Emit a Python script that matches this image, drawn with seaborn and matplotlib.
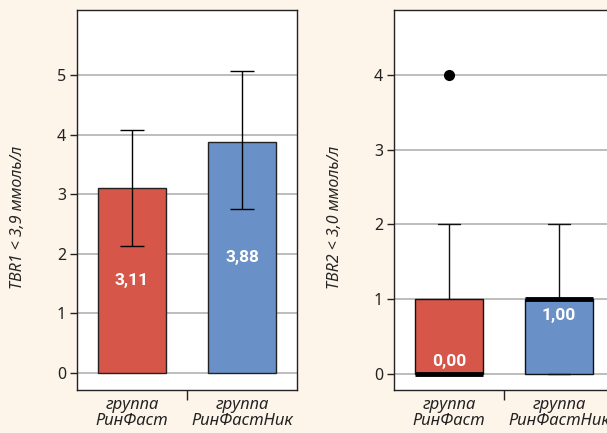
import matplotlib
matplotlib.use("Agg")
import matplotlib.pyplot as plt
import seaborn as sns
import pandas as pd
import numpy as np

# Categories
groups = ["группа\nРинФаст", "группа\nРинФастНик"]

# TBR1 (< 3,9 ммоль/л): means with lower/upper error bounds
tbr1_mean = [3.11, 3.88]
tbr1_low = [2.13, 2.75]
tbr1_high = [4.08, 5.07]
tbr1_labels = ["3,11", "3,88"]

# TBR2 (< 3,0 ммоль/л): individual observations per group
tbr2_rinfast = [0, 0, 0, 0, 0, 0, 1, 1, 2, 4]
tbr2_rinfastnik = [0, 0, 0, 1, 1, 1, 1, 1, 2]
tbr2_labels = ["0,00", "1,00"]

colors = ["#D6574A", "#6991C8"]
bg = "#FEF5EA"

sns.set_style("ticks")
plt.rcParams["font.family"] = ["Noto Sans", "DejaVu Sans"]
plt.rcParams["axes.edgecolor"] = "#222222"
plt.rcParams["axes.linewidth"] = 1.0
plt.rcParams["xtick.color"] = "#222222"
plt.rcParams["ytick.color"] = "#222222"
plt.rcParams["text.color"] = "#222222"

bold_family = ["Roboto", "Open Sans", "DejaVu Sans"]

fig = plt.figure(figsize=(6.07, 4.33), dpi=100, facecolor=bg)
W, H = 607, 433
ax1 = fig.add_axes([77 / W, (H - 390) / H, 220 / W, 380 / H])
ax2 = fig.add_axes([394 / W, (H - 390) / H, 220 / W, 380 / H])

grid_kw = dict(color="#BDBDBD", linewidth=1.4)

# ---- Left panel: bar chart with error bars ----
df1 = pd.DataFrame({"group": groups, "value": tbr1_mean})
sns.barplot(data=df1, x="group", y="value", hue="group", palette=colors,
            width=0.61, saturation=1, edgecolor="#222222", linewidth=1.0,
            errorbar=None, legend=False, ax=ax1)
mean = np.array(tbr1_mean)
yerr = [mean - np.array(tbr1_low), np.array(tbr1_high) - mean]
ax1.errorbar([0, 1], mean, yerr=yerr, fmt="none", ecolor="black",
             elinewidth=1.0, capsize=8.3, capthick=1.0, zorder=4)
for i, (v, lab) in enumerate(zip(tbr1_mean, tbr1_labels)):
    ax1.text(i, v / 2, lab, color="white", fontsize=12.5, fontweight="bold",
             family=bold_family, ha="center", va="center", zorder=5)
ax1.set_ylim(-0.285, 6.09)
ax1.set_yticks(range(0, 6))
ax1.set_ylabel("TBR1 < 3,9 ммоль/л", fontsize=11.5, style="italic")

# ---- Right panel: box plot ----
df2 = pd.DataFrame({
    "group": [groups[0]] * len(tbr2_rinfast) + [groups[1]] * len(tbr2_rinfastnik),
    "value": tbr2_rinfast + tbr2_rinfastnik,
})
sns.boxplot(data=df2, x="group", y="value", hue="group", palette=colors,
            width=0.61, saturation=1, whis=1.5, linecolor="#111111",
            linewidth=1.0, legend=False, ax=ax2,
            medianprops=dict(color="black", linewidth=3.5),
            flierprops=dict(marker="o", markerfacecolor="black",
                            markeredgecolor="black", markersize=7),
            capwidths=0.2)
medians = [np.median(tbr2_rinfast), np.median(tbr2_rinfastnik)]
offsets = [0.17, -0.22]
for i, (m, off, lab) in enumerate(zip(medians, offsets, tbr2_labels)):
    ax2.text(i, m + off, lab, color="white", fontsize=12.5, fontweight="bold",
             family=bold_family, ha="center", va="center", zorder=6)
ax2.set_ylim(-0.215, 4.87)
ax2.set_yticks(range(0, 5))
ax2.set_ylabel("TBR2 < 3,0 ммоль/л", fontsize=11.5, style="italic")

for ax in (ax1, ax2):
    ax.set_facecolor("white")
    ax.set_axisbelow(True)
    ax.yaxis.grid(True, **grid_kw)
    ax.set_xlim(-0.5, 1.5)
    ax.set_xlabel("")
    ax.set_xticks([0, 1])
    ax.set_xticklabels(groups, fontsize=12, style="italic", linespacing=1.0)
    ax.tick_params(axis="x", length=0, pad=5)
    ax.set_xticks([0.5], minor=True)
    ax.tick_params(axis="x", which="minor", length=7, width=1.0, direction="out")
    ax.tick_params(axis="y", length=5, width=1.0, labelsize=11.5, pad=3)
    for s in ax.spines.values():
        s.set_visible(True)
        s.set_color("#222222")
    ax.yaxis.set_label_coords(-0.232, 0.453)

fig.savefig("out.png", dpi=100, facecolor=bg)
